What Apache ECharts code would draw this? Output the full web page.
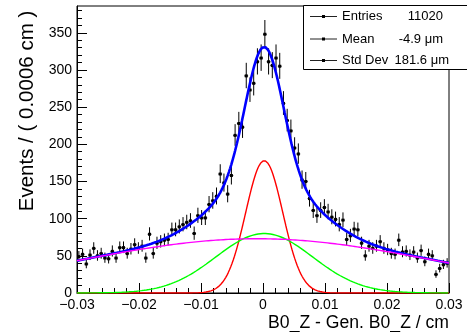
<!DOCTYPE html>
<html>
<head>
<meta charset="utf-8">
<script src="https://cdn.jsdelivr.net/npm/echarts@6/dist/echarts.min.js"></script>
<style>
  html, body { margin: 0; padding: 0; background: #fff; }
  #chart { width: 467px; height: 332px; }
</style>
</head>
<body>
<div id="chart"></div>
<script>
// Histogram binning of B0_Z - Gen. B0_Z (cm)
const binLow = -0.03;
const binWidth = 0.0006;

// Entries per bin (100 bins)
const counts = [
  49, 52, 39, 51, 60, 50, 53, 47, 46, 56,
  47, 61, 61, 53, 59, 65, 60, 63, 47, 79,
  53, 67, 69, 71, 72, 85, 85, 89, 92, 95,
  97, 80, 104, 101, 101, 119, 124, 130, 160, 148,
  133, 158, 212, 228, 223, 292, 273, 282, 311, 316,
  348, 311, 306, 316, 305, 255, 232, 218, 195, 187,
  152, 150, 127, 111, 104, 111, 115, 109, 102, 99,
  92, 98, 72, 77, 86, 85, 67, 50, 63, 60,
  63, 69, 60, 58, 53, 52, 71, 55, 56, 51,
  55, 47, 57, 42, 52, 50, 25, 33, 38, 40
];

// Fitted model components: [amplitude, mean, sigma]
const coreGauss = [178, 0.0002, 0.0030];   // red
const midGauss  = [80, 0.0002, 0.0078];    // green
const wideGauss = [73, -0.0010, 0.0285];   // magenta

// Axis ticks
const xMajorTicks = [-0.03, -0.02, -0.01, 0, 0.01, 0.02, 0.03];
const xMinorTicks = [
  -0.028, -0.026, -0.024, -0.022, -0.018, -0.016, -0.014, -0.012,
  -0.008, -0.006, -0.004, -0.002, 0.002, 0.004, 0.006, 0.008,
  0.012, 0.014, 0.016, 0.018, 0.022, 0.024, 0.026, 0.028
];
const yMajorTicks = [0, 50, 100, 150, 200, 250, 300, 350];
const yMinorTicks = [
  10, 20, 30, 40, 60, 70, 80, 90, 110, 120, 130, 140, 160, 170, 180, 190,
  210, 220, 230, 240, 260, 270, 280, 290, 310, 320, 330, 340, 360, 370, 380
];
const yMax = 386;

// Stats box entries
const statLabels = ['Entries', 'Mean', 'Std Dev'];
const statValues = ['11020', '-4.9 \u03bcm', '181.6 \u03bcm'];

const FONT = '"Liberation Sans", Arial, Helvetica, sans-serif';

function gauss(p, x) {
  const d = (x - p[1]) / p[2];
  return p[0] * Math.exp(-0.5 * d * d);
}

// Sample the fit curves over the axis range
const curveX = [];
for (let k = 0; k <= 600; k++) curveX.push(-0.03 + k * 0.0001);
const coreCurve = curveX.map(x => [x, gauss(coreGauss, x)]);
const midCurve  = curveX.map(x => [x, gauss(midGauss, x)]);
const wideCurve = curveX.map(x => [x, gauss(wideGauss, x)]);
const totalCurve = curveX.map(x => [x, gauss(coreGauss, x) + gauss(midGauss, x) + gauss(wideGauss, x)]);

// Data points with approximate Poisson errors
const points = counts.map((n, i) => {
  const s = Math.sqrt(n + 0.25);
  return [binLow + binWidth * (i + 0.5), n, s - 0.5, s + 0.5];
});

function xLabel(v) {
  const r = Math.round(v * 100) / 100;
  if (r === 0) return '0';
  return (r < 0 ? '\u2212' : '') + Math.abs(r).toFixed(2);
}

const chart = echarts.init(document.getElementById('chart'), null, { renderer: 'canvas' });

const axisCommonX = { type: 'value', min: -0.03, max: 0.03, position: 'bottom', splitLine: { show: false } };
const axisCommonY = { type: 'value', min: 0, max: yMax, position: 'left', splitLine: { show: false } };

chart.setOption({
  animation: false,
  backgroundColor: '#fff',
  grid: { left: 77, right: 18, top: 6, bottom: 39, show: true, borderColor: '#000', borderWidth: 1, backgroundColor: 'transparent' },
  xAxis: [
    Object.assign({}, axisCommonX, {
      axisLine: { show: true, onZero: false, lineStyle: { color: '#000', width: 1 } },
      axisTick: { show: true, inside: true, length: 10, customValues: xMajorTicks, lineStyle: { color: '#000' } },
      axisLabel: { show: true, customValues: xMajorTicks, formatter: xLabel, fontSize: 14, color: '#000', fontFamily: FONT, margin: 5 }
    }),
    Object.assign({}, axisCommonX, {
      axisLine: { show: false, onZero: false },
      axisTick: { show: true, inside: true, length: 5, customValues: xMinorTicks, lineStyle: { color: '#000' } },
      axisLabel: { show: false }
    })
  ],
  yAxis: [
    Object.assign({}, axisCommonY, {
      axisLine: { show: true, onZero: false, lineStyle: { color: '#000', width: 1 } },
      axisTick: { show: true, inside: true, length: 10, customValues: yMajorTicks, lineStyle: { color: '#000' } },
      axisLabel: { show: true, customValues: yMajorTicks, fontSize: 14, color: '#000', fontFamily: FONT, margin: 5 }
    }),
    Object.assign({}, axisCommonY, {
      axisLine: { show: false, onZero: false },
      axisTick: { show: true, inside: true, length: 5, customValues: yMinorTicks, lineStyle: { color: '#000' } },
      axisLabel: { show: false }
    })
  ],
  series: [
    {
      type: 'custom',
      name: 'data',
      xAxisIndex: 0, yAxisIndex: 0,
      data: points,
      z: 2,
      clip: true,
      renderItem: function (params, api) {
        const x = api.value(0), y = api.value(1), lo = api.value(2), hi = api.value(3);
        const c = api.coord([x, y]);
        const l = api.coord([x - binWidth / 2, y]);
        const r = api.coord([x + binWidth / 2, y]);
        const t = api.coord([x, y + hi]);
        const b = api.coord([x, y - lo]);
        return {
          type: 'group',
          children: [
            { type: 'line', shape: { x1: l[0], y1: c[1], x2: r[0], y2: c[1] }, style: { stroke: '#000', lineWidth: 1 } },
            { type: 'line', shape: { x1: c[0], y1: t[1], x2: c[0], y2: b[1] }, style: { stroke: '#000', lineWidth: 1 } },
            { type: 'rect', shape: { x: c[0] - 1.5, y: c[1] - 1.5, width: 3, height: 3 }, style: { fill: '#000' } }
          ]
        };
      }
    },
    { type: 'line', name: 'total', data: totalCurve, showSymbol: false, z: 4, lineStyle: { color: '#0000ff', width: 2.6 }, clip: true },
    { type: 'line', name: 'core', data: coreCurve, showSymbol: false, z: 5, lineStyle: { color: '#ff0000', width: 1.4 }, clip: true },
    { type: 'line', name: 'mid', data: midCurve, showSymbol: false, z: 5, lineStyle: { color: '#00ff00', width: 1.4 }, clip: true },
    { type: 'line', name: 'wide', data: wideCurve, showSymbol: false, z: 5, lineStyle: { color: '#ff00ff', width: 1.4 }, clip: true }
  ],
  graphic: [
    // axis titles
    { type: 'text', z: 20, x: 449, y: 323, style: { text: 'B0_Z - Gen. B0_Z / cm', font: '17.6px ' + FONT, fill: '#000', textAlign: 'right', textVerticalAlign: 'middle' } },
    { type: 'text', z: 20, x: 27, y: 111, rotation: Math.PI / 2, style: { text: 'Events / ( 0.0006 cm )', font: '20.5px ' + FONT, fill: '#000', textAlign: 'center', textVerticalAlign: 'middle' } },
    // stats box
    { type: 'rect', z: 30, shape: { x: 303.5, y: 5.5, width: 170, height: 64 }, style: { fill: '#fff', stroke: '#000', lineWidth: 1 } },
    ...statLabels.flatMap((lab, i) => {
      const yRow = [16.5, 39, 60.5][i];
      const items = [
        { type: 'line', z: 31, shape: { x1: 310, y1: yRow, x2: 337, y2: yRow }, style: { stroke: '#222', lineWidth: 1 } },
        { type: 'rect', z: 31, shape: { x: 322, y: yRow - 1.5, width: 3, height: 3 }, style: { fill: '#000' } },
        { type: 'text', z: 31, x: 342, y: yRow, style: { text: lab, font: '13px ' + FONT, fill: '#000', textAlign: 'left', textVerticalAlign: 'middle' } }
      ];
      items.push({ type: 'text', z: 31, x: i < 2 ? 443 : 449, y: yRow, style: { text: statValues[i], font: '13px ' + FONT, fill: '#000', textAlign: 'right', textVerticalAlign: 'middle' } });
      return items;
    })
  ]
});
</script>
</body>
</html>
